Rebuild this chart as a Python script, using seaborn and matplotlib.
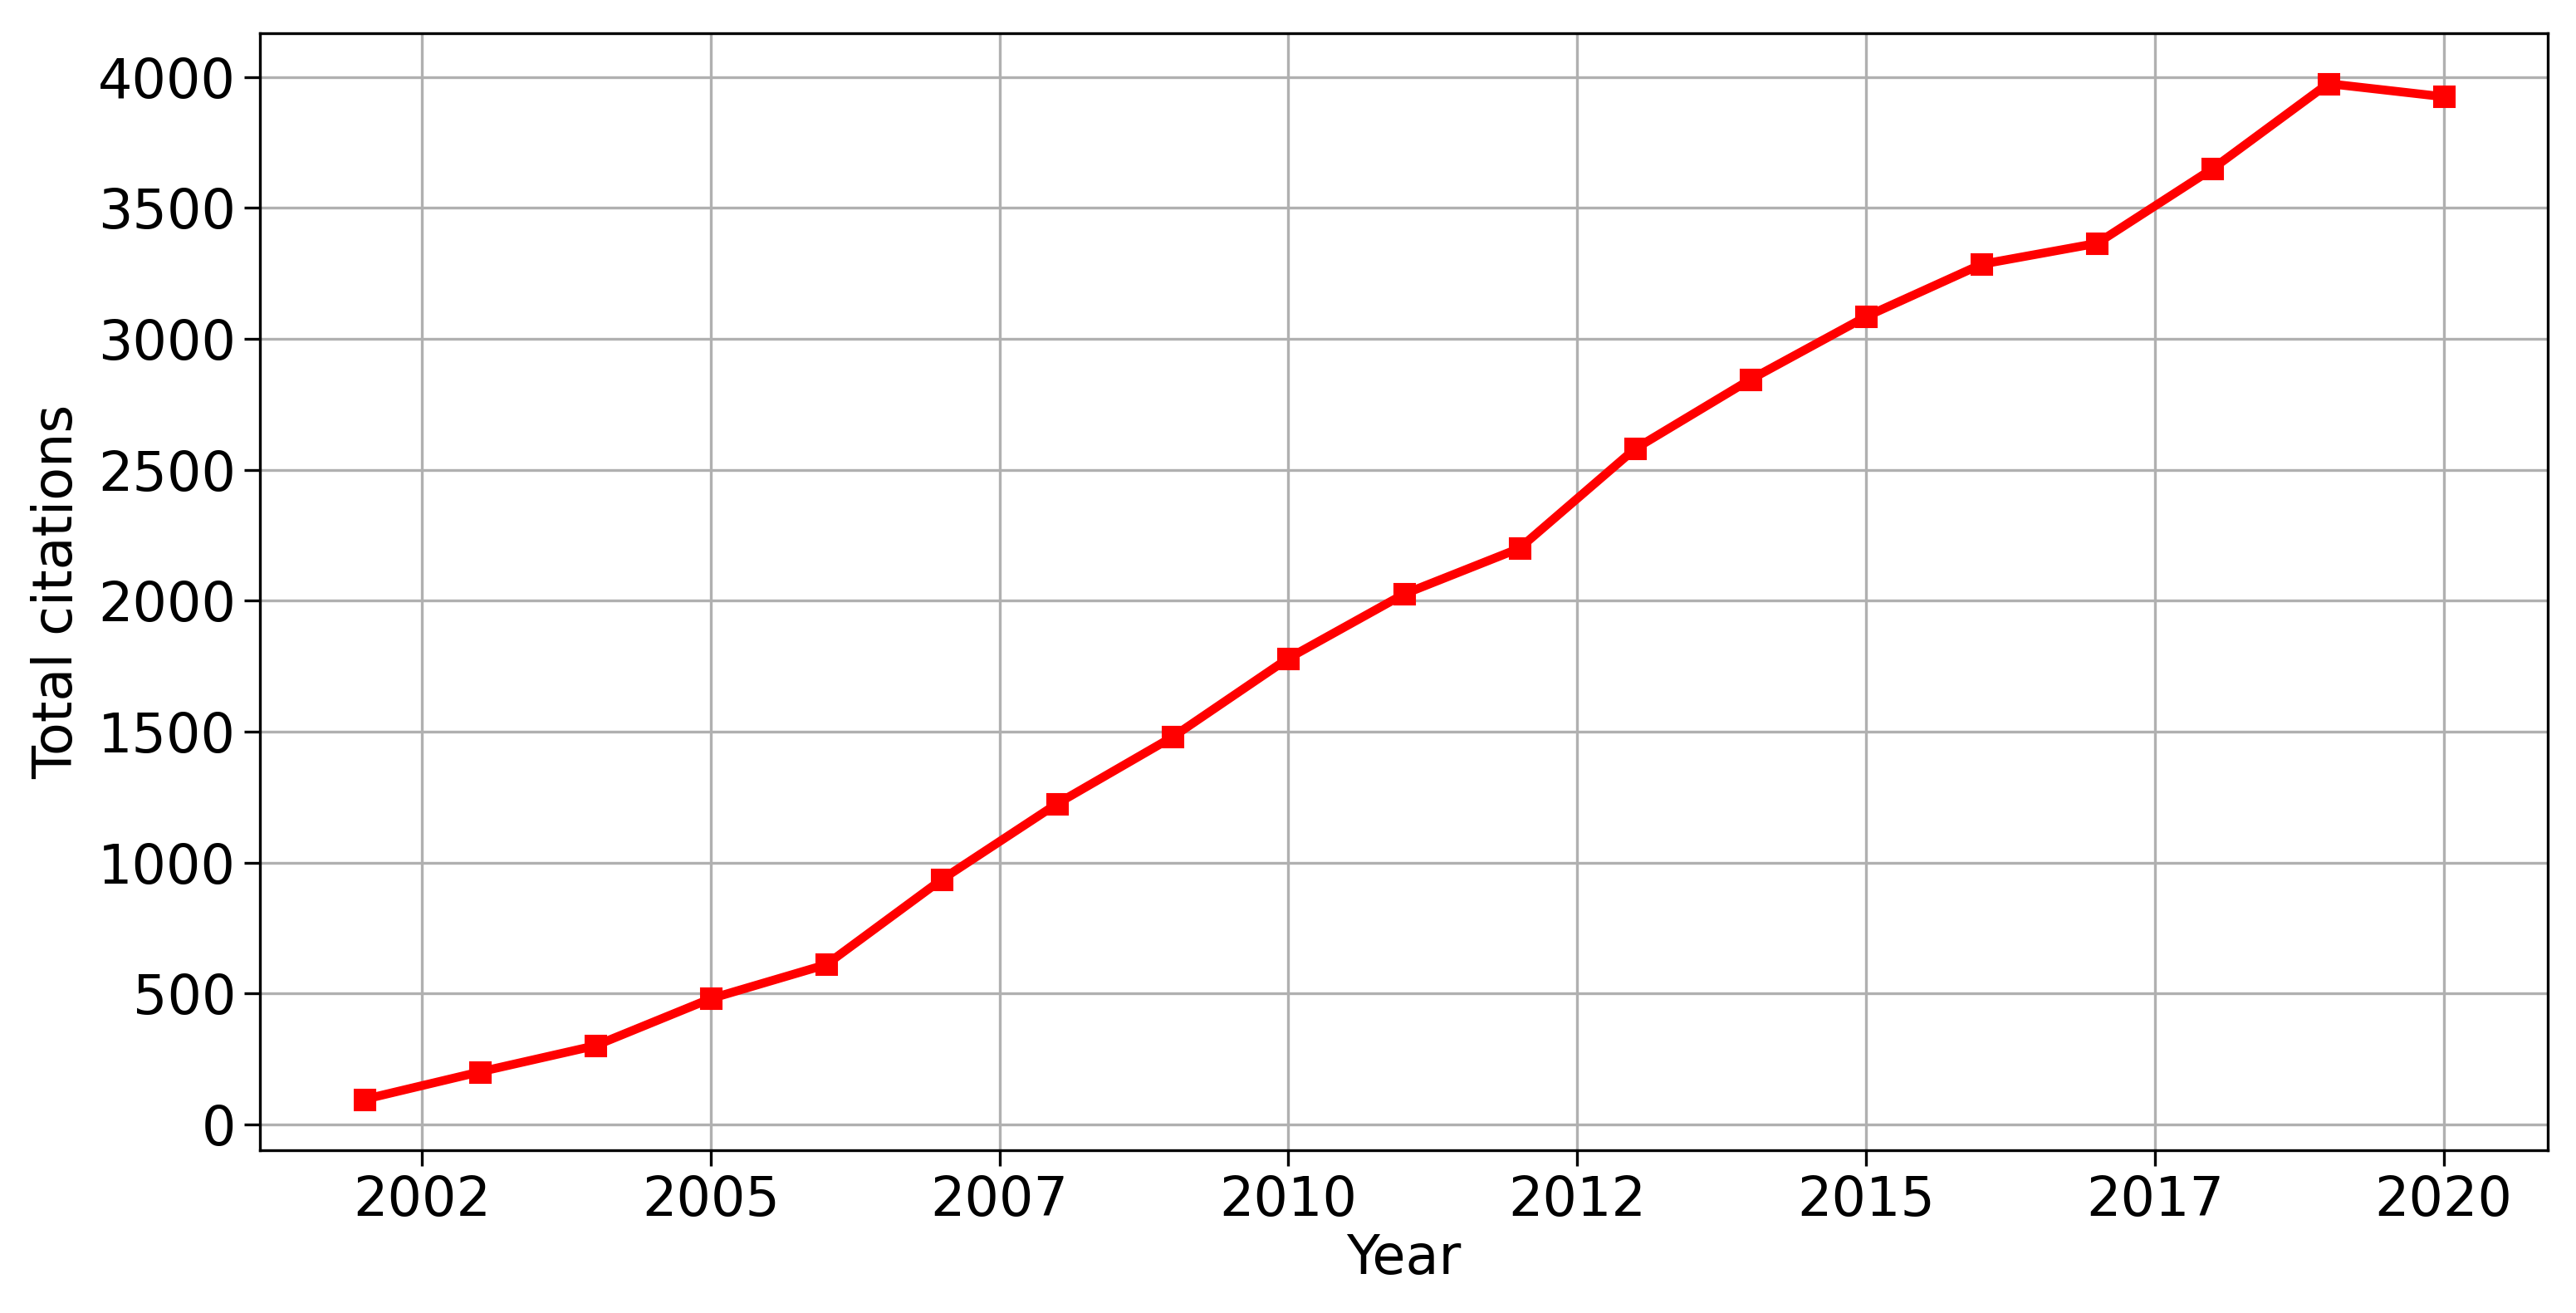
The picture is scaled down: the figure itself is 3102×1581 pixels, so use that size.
import numpy as np
import pandas as pd
import matplotlib
matplotlib.use("Agg")
import matplotlib.pyplot as plt
from matplotlib.ticker import MultipleLocator, FuncFormatter
import seaborn as sns

# Citations per year
years = [2002, 2003, 2004, 2005, 2006, 2007, 2008, 2009, 2010, 2011,
         2012, 2013, 2014, 2015, 2016, 2017, 2018, 2019, 2020]
citations = [95, 200, 300, 480, 610, 935, 1225, 1480, 1780, 2025,
             2200, 2580, 2845, 3085, 3285, 3365, 3650, 3975, 3925]

df = pd.DataFrame({"Year": years, "Total citations": citations})

sns.set_style("ticks")
plt.rcParams["font.family"] = ["DejaVu Sans"]
plt.rcParams["text.color"] = "black"
plt.rcParams["axes.labelcolor"] = "black"
plt.rcParams["xtick.color"] = "black"
plt.rcParams["ytick.color"] = "black"

fig = plt.figure(figsize=(15.51, 7.905), dpi=200)
ax = fig.add_axes([0.101, 0.124, 0.888, 0.851])

sns.lineplot(data=df, x="Year", y="Total citations", ax=ax,
             color="red", linewidth=3.8, marker="s", markersize=9,
             markeredgecolor="red")

ax.xaxis.set_major_locator(MultipleLocator(2.5))
ax.xaxis.set_major_formatter(FuncFormatter(lambda v, p: f"{int(v)}"))
ax.yaxis.set_major_locator(MultipleLocator(500))
ax.margins(x=0.05, y=0.05)

ax.grid(True, color="#b0b0b0", linewidth=1.2)
ax.set_axisbelow(True)
for s in ax.spines.values():
    s.set_color("black")
    s.set_linewidth(1.2)
ax.tick_params(axis="both", labelsize=23.5, length=7, width=1.2,
               color="black", labelcolor="black", direction="out")
ax.set_xlabel("Year", fontsize=23.5, color="black", labelpad=2)
ax.set_ylabel("Total citations", fontsize=23.5, color="black", labelpad=6)

fig.savefig("out.png", dpi=200, facecolor="white")
